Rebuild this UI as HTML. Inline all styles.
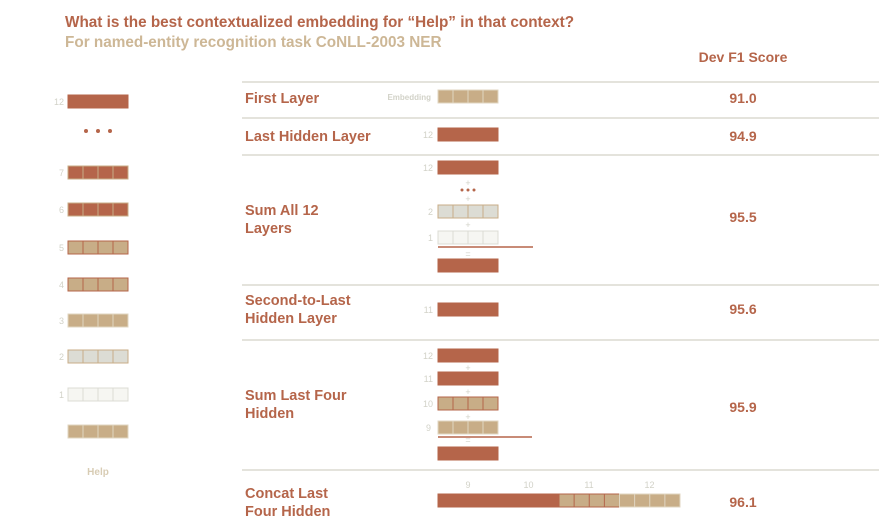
<!DOCTYPE html>
<html><head><meta charset="utf-8"><style>
body{margin:0;background:#fff;width:879px;height:529px;overflow:hidden;font-family:"Liberation Sans",sans-serif}
svg{display:block}
</style></head><body>
<svg id="c" width="879" height="529">
<text x="65" y="27" font-size="15.3" font-weight="bold" fill="#b5654a">What is the best contextualized embedding for “Help” in that context?</text>
<text x="65" y="47" font-size="15.3" font-weight="bold" fill="#cdb796">For named-entity recognition task CoNLL-2003 NER</text>
<text x="743" y="62" font-size="14" font-weight="bold" text-anchor="middle" fill="#b5654a">Dev F1 Score</text>
</svg>
<script>
const methods=["First Layer","Last Hidden Layer","Sum All 12|Layers","Second-to-Last|Hidden Layer","Sum Last Four|Hidden","Concat Last|Four Hidden"];
const scores=[91.0,94.9,95.5,95.6,95.9,96.1];
const labelY=[98,136,210,300,395,493];
const scoreY=[103,141,222,314,412,507];
const sepY=[82,118,155,285,340,470];
const svg=document.getElementById('c');
const NS='http://www.w3.org/2000/svg';
function el(t,a,txt){const e=document.createElementNS(NS,t);for(const k in a)e.setAttribute(k,a[k]);if(txt!==undefined)e.textContent=txt;svg.appendChild(e);return e;}
const RED='#b5654a',TAN='#c8ad87',LG='#dcdcd4',GT='#d2d2c8';
const fills={red:[RED,RED],redc:[RED,TAN],tan:[TAN,RED],tanl:[TAN,'#e0d6c2'],gray:[LG,TAN],white:['#f6f6f2',LG]};
function bar(x,y,type,name,w){
  w=w||60;const f=fills[type];
  const r=el('rect',{x:x,y:y,width:w,height:13,fill:f[0],stroke:f[1],'stroke-width':1});
  
  if(type!=='red'){for(let i=1;i<4;i++){const l=el('line',{x1:x+i*w/4,y1:y,x2:x+i*w/4,y2:y+13,stroke:f[1],'stroke-width':1});}}
}
function lab(x,y,t,name,size,color,anchor,weight){const e=el('text',{x:x,y:y,'font-size':size||9,fill:color||GT,'text-anchor':anchor||'end','font-weight':weight||'normal'},t);}
sepY.forEach((y,i)=>{const l=el('line',{x1:242,y1:y,x2:879,y2:y,stroke:'#dcdad0','stroke-width':1.5});});
methods.forEach((m,i)=>{
  m.split('|').forEach((p,j)=>lab(245,labelY[i]+5+j*18,p,'method-label',14.5,RED,'start','bold'));
  lab(743,scoreY[i],scores[i].toFixed(1),'score-value',14,RED,'middle','bold');
});
const leftLayers=[[12,95,'red'],[7,166,'redc'],[6,203,'redc'],[5,241,'tan'],[4,278,'tan'],[3,314,'tanl'],[2,350,'gray'],[1,388,'white']];
leftLayers.forEach(([n,y,t])=>{bar(68,y,t,'layer-'+n+'-bar');lab(64,y+10,String(n),'layer-number');});
[86,98,110].forEach(x=>{const c=el('circle',{cx:x,cy:131,r:2,fill:RED});});
bar(68,425,'tanl','input-embedding-bar');
lab(98,475,'Help','input-token-label',10,'#d8ccb4','middle','bold');
bar(438,90,'tanl','embedding-bar');lab(431,100,'Embedding','embedding-label',8,GT,'end','bold');
bar(438,128,'red','last-hidden-bar');lab(433,138,'12','layer-number');
bar(438,161,'red','sum12-layer12');lab(433,171,'12','layer-number');
lab(468,186,'+','plus-sign',9,GT,'middle');
[462,468,474].forEach(x=>{const c=el('circle',{cx:x,cy:190,r:1.5,fill:RED});});
lab(468,202,'+','plus-sign',9,GT,'middle');
bar(438,205,'gray','sum12-layer2');lab(433,215,'2','layer-number');
lab(468,228,'+','plus-sign',9,GT,'middle');
bar(438,231,'white','sum12-layer1');lab(433,241,'1','layer-number');
let l=el('line',{x1:438,y1:247,x2:533,y2:247,stroke:RED,'stroke-width':1.5});
lab(468,257,'=','equals-sign',9,GT,'middle');
bar(438,259,'red','sum12-result');
bar(438,303,'red','second-last-bar');lab(433,313,'11','layer-number');
bar(438,349,'red','sum4-layer12');lab(433,359,'12','layer-number');
lab(468,371,'+','plus-sign',9,GT,'middle');
bar(438,372,'red','sum4-layer11');lab(433,382,'11','layer-number');
lab(468,395,'+','plus-sign',9,GT,'middle');
bar(438,397,'tan','sum4-layer10');lab(433,407,'10','layer-number');
lab(468,420,'+','plus-sign',9,GT,'middle');
bar(438,421,'tanl','sum4-layer9');lab(431,431,'9','layer-number');
l=el('line',{x1:438,y1:437,x2:532,y2:437,stroke:RED,'stroke-width':1.5});
lab(468,443,'=','equals-sign',9,GT,'middle');
bar(438,447,'red','sum4-result');
const concatLayers=[9,10,11,12];
const concatTypes=['red','red','tan','tanl'];
concatLayers.forEach((n,i)=>{const x=438+i*60.5;bar(x,494,concatTypes[i],'concat-layer-'+n,60.5);lab(x+30,488,String(n),'concat-layer-number',9,GT,'middle');});
</script>
</body></html>
